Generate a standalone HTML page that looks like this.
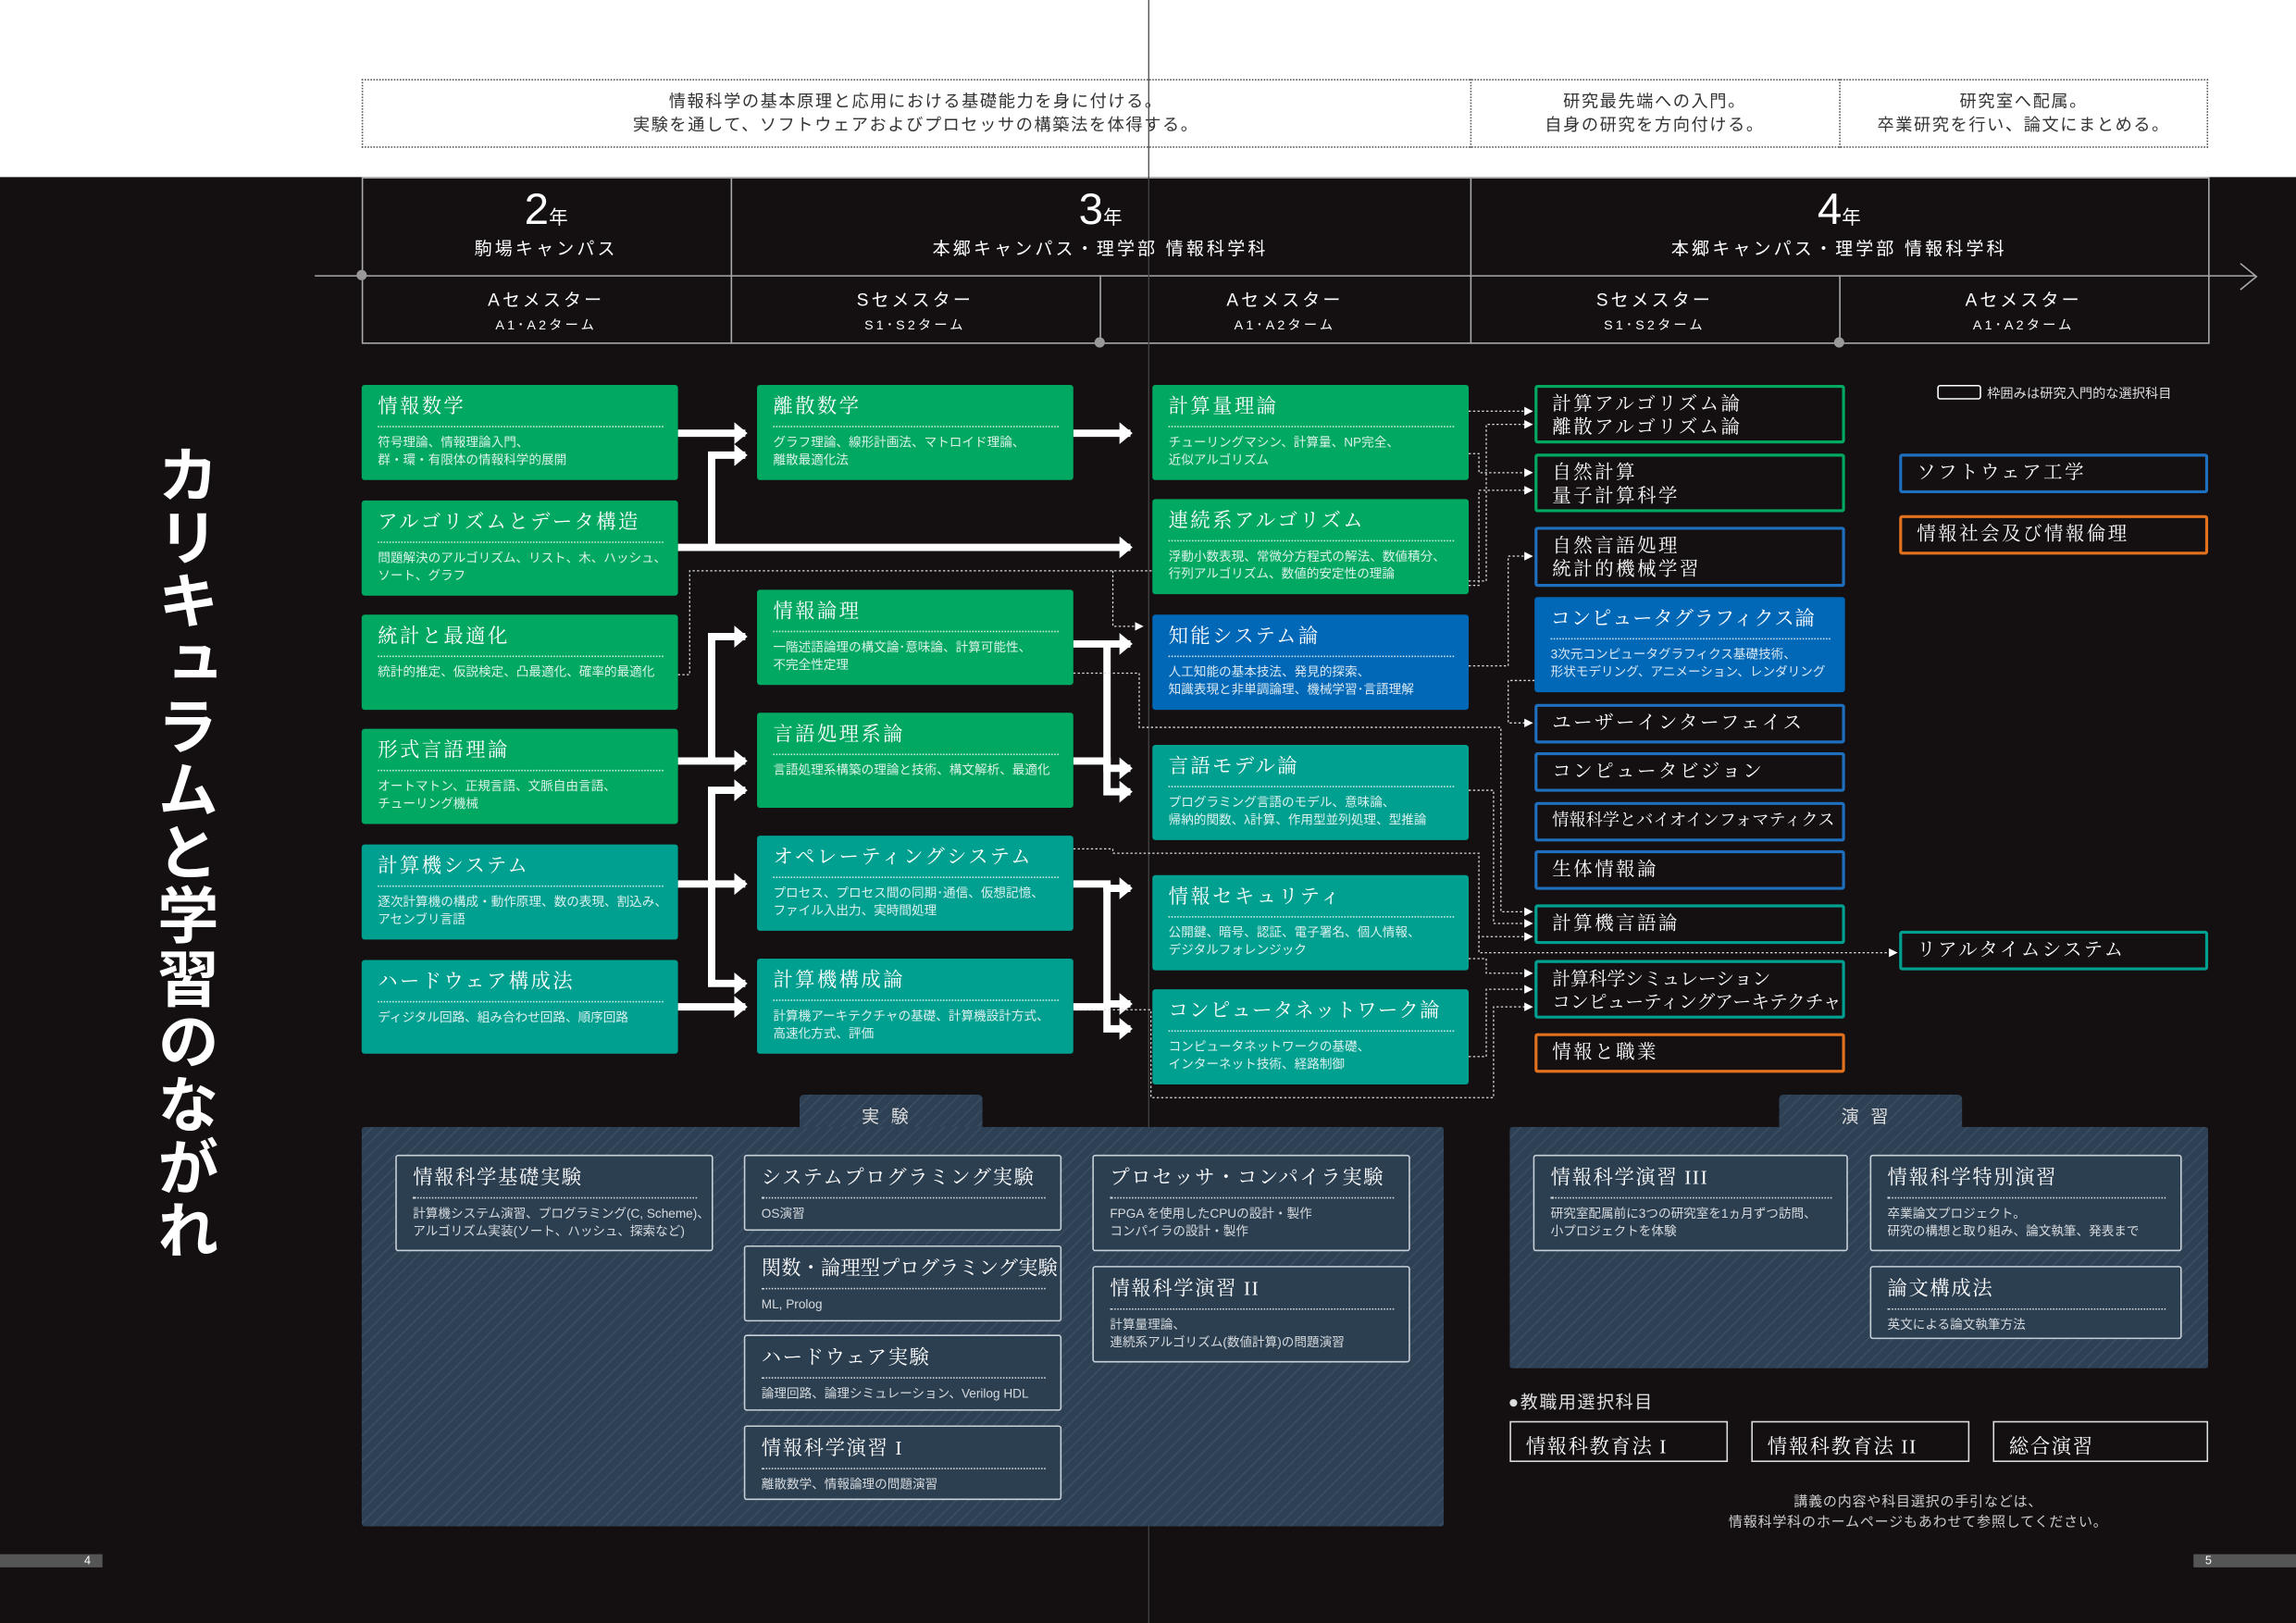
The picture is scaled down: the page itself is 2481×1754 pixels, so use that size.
<!DOCTYPE html>
<html><head><meta charset="utf-8"><style>
*{margin:0;padding:0;box-sizing:border-box}
body{width:2481px;height:1754px;overflow:hidden;background:#141011;font-family:"Liberation Sans","Noto Sans CJK JP",sans-serif;color:#fff}
#w{position:absolute;left:0;top:0;width:1568px;height:1109px;transform:scale(1.58227,1.5816);transform-origin:0 0;background:#141011}
.a{position:absolute}
.top{left:0;top:0;width:1568px;height:121px;background:#fff}
.c{text-align:center}
.b{position:absolute;padding:6px 10px 0 11px;border-radius:2px}
.b h{display:block;font-size:13.5px;letter-spacing:1.5px;line-height:18px;font-family:"Liberation Serif","Noto Serif CJK SC",serif;padding-bottom:4px;border-bottom:1px dotted rgba(255,255,255,.8);margin-bottom:4px;white-space:nowrap}
.b p{font-size:8.6px;line-height:12px;color:rgba(255,255,255,.85);white-space:nowrap}
.g{background:#00a862}.t{background:#00a090}.bl{background:#0068b6}
.o{position:absolute;border:2px solid;background:#141011;padding:3px 10px;font-family:"Liberation Serif","Noto Serif CJK SC",serif;font-size:13px;line-height:16px;letter-spacing:1.5px;border-radius:2px;white-space:nowrap;overflow:hidden}
.og{border-color:#00a862}.ob{border-color:#1f6fbf}.ot{border-color:#00a090}.oo{border-color:#e2711e}
.hat{background:#2e4053 repeating-linear-gradient(135deg,#2e4053 0 5px,#3a4d60 5px 6px)}
.e{position:absolute;background:#2c3f51;border:1px solid #c8d0d8;padding:6px 10px 0 11px;border-radius:2px}
.e h{display:block;font-size:13.5px;letter-spacing:1px;line-height:18px;font-family:"Liberation Serif","Noto Serif CJK SC",serif;padding-bottom:4px;border-bottom:1px dotted rgba(255,255,255,.8);margin-bottom:4px;white-space:nowrap}
.e p{font-size:8.6px;line-height:12px;color:rgba(255,255,255,.8);white-space:nowrap}
.k{position:absolute;border:1px solid #ddd;font-family:"Liberation Serif","Noto Serif CJK SC",serif;font-size:13.5px;padding:5px 10px;letter-spacing:1px}
</style></head><body><div id="w">
<div class="a top"></div>
<div class="a" style="left:247px;top:54px;width:1261px;height:47px;border:1px dotted #555"></div>
<div class="a" style="left:1004px;top:54px;width:1px;height:47px;border-left:1px dotted #555"></div>
<div class="a" style="left:1256px;top:54px;width:1px;height:47px;border-left:1px dotted #555"></div>
<div class="a c" style="left:247px;top:62px;width:757px;font-size:11.5px;line-height:16px;color:#333;letter-spacing:1px">情報科学の基本原理と応用における基礎能力を身に付ける。<br>実験を通して、ソフトウェアおよびプロセッサの構築法を体得する。</div>
<div class="a c" style="left:1004px;top:62px;width:252px;font-size:11.5px;line-height:16px;color:#333;letter-spacing:1px">研究最先端への入門。<br>自身の研究を方向付ける。</div>
<div class="a c" style="left:1256px;top:62px;width:252px;font-size:11.5px;line-height:16px;color:#333;letter-spacing:1px">研究室へ配属。<br>卒業研究を行い、論文にまとめる。</div>
<svg class="a" style="left:0;top:0" width="1568" height="1109">
<g stroke="#aaa" stroke-width="1" fill="none">
<rect x="247.5" y="121.5" width="1261" height="113"/>
<line x1="215" y1="188.5" x2="1540" y2="188.5"/>
<polyline points="1530,180 1541,189 1530,198"/>
<line x1="499.5" y1="121" x2="499.5" y2="235"/>
<line x1="1004.5" y1="121" x2="1004.5" y2="235"/>
<line x1="751.5" y1="188" x2="751.5" y2="235"/>
<line x1="1256.5" y1="188" x2="1256.5" y2="235"/>
</g>
<g fill="#999"><circle cx="247" cy="188" r="3.5"/><circle cx="751" cy="234" r="3.5"/><circle cx="1256" cy="234" r="3.5"/></g>
<line x1="784.5" y1="0" x2="784.5" y2="1109" stroke="#444" stroke-width="0.8"/>
</svg>
<div class="a c" style="left:247px;top:128px;width:252px;font-size:30px;line-height:32px">2<span style="font-size:13px">年</span></div>
<div class="a c" style="left:247px;top:161px;width:252px;font-size:12px;letter-spacing:2px">駒場キャンパス</div>
<div class="a c" style="left:499px;top:128px;width:505px;font-size:30px;line-height:32px">3<span style="font-size:13px">年</span></div>
<div class="a c" style="left:499px;top:161px;width:505px;font-size:12px;letter-spacing:2px">本郷キャンパス・理学部 情報科学科</div>
<div class="a c" style="left:1004px;top:128px;width:504px;font-size:30px;line-height:32px">4<span style="font-size:13px">年</span></div>
<div class="a c" style="left:1004px;top:161px;width:504px;font-size:12px;letter-spacing:2px">本郷キャンパス・理学部 情報科学科</div>
<div class="a c" style="left:247px;top:197px;width:252px;font-size:12px;letter-spacing:2px;line-height:16px">Aセメスター<br><span style="font-size:9px">A1･A2ターム</span></div>
<div class="a c" style="left:499px;top:197px;width:252px;font-size:12px;letter-spacing:2px;line-height:16px">Sセメスター<br><span style="font-size:9px">S1･S2ターム</span></div>
<div class="a c" style="left:751px;top:197px;width:253px;font-size:12px;letter-spacing:2px;line-height:16px">Aセメスター<br><span style="font-size:9px">A1･A2ターム</span></div>
<div class="a c" style="left:1004px;top:197px;width:252px;font-size:12px;letter-spacing:2px;line-height:16px">Sセメスター<br><span style="font-size:9px">S1･S2ターム</span></div>
<div class="a c" style="left:1256px;top:197px;width:252px;font-size:12px;letter-spacing:2px;line-height:16px">Aセメスター<br><span style="font-size:9px">A1･A2ターム</span></div>
<div class="a" style="left:100px;top:303px;writing-mode:vertical-rl;font-size:42px;font-weight:bold;line-height:50px;letter-spacing:1px">カリキュラムと学習のながれ</div>
<svg class="a" style="left:0;top:0" width="1568" height="1109">
<defs>
<marker id="ah" markerWidth="3" markerHeight="3" refX="1.5" refY="1.5" orient="auto" markerUnits="strokeWidth"><path d="M0,0 L1.8,1.5 L0,3 z" fill="#fff"/></marker>
<marker id="sm" markerWidth="6" markerHeight="6" refX="5" refY="3" orient="auto" markerUnits="userSpaceOnUse"><path d="M0,0 L6,3 L0,6 z" fill="#fff"/></marker>
</defs>
<g stroke="#fff" stroke-width="5" fill="none" stroke-linejoin="miter">
<path d="M463,296 H509" marker-end="url(#ah)"/>
<path d="M463,374 H772" marker-end="url(#ah)"/>
<path d="M486,374 V311 H509" marker-end="url(#ah)"/>
<path d="M733,296 H772" marker-end="url(#ah)"/>
<path d="M463,520 H509" marker-end="url(#ah)"/>
<path d="M486,520 V435 H509" marker-end="url(#ah)"/>
<path d="M463,604 H509" marker-end="url(#ah)"/>
<path d="M486,604 V540 H509" marker-end="url(#ah)"/>
<path d="M486,604 V672 H509" marker-end="url(#ah)"/>
<path d="M463,688 H509" marker-end="url(#ah)"/>
<path d="M733,440 H772" marker-end="url(#ah)"/>
<path d="M756,440 V525 H772" marker-end="url(#ah)"/>
<path d="M733,520 H756 V541 H772" marker-end="url(#ah)"/>
<path d="M733,604 H756 V607 H772" marker-end="url(#ah)"/>
<path d="M756,604 V686 H772" marker-end="url(#ah)"/>
<path d="M733,688 H756 V703 H772" marker-end="url(#ah)"/>
</g>
<g stroke="#ddd" stroke-width="0.8" fill="none" stroke-dasharray="1.5,1.5">
<path d="M463,461 H471 V390 H1003" />
<path d="M760,390 V428 H780" marker-end="url(#sm)"/>
<path d="M1003,281 H1046" marker-end="url(#sm)"/>
<path d="M1003,310 H1010 V323 H1046" marker-end="url(#sm)"/>
<path d="M1003,400 H1010 V335 H1046" marker-end="url(#sm)"/>
<path d="M1003,397 H1015 V290 H1046" marker-end="url(#sm)"/>
<path d="M1003,455 H1030 V380 H1046" marker-end="url(#sm)"/>
<path d="M1048,465 H1030 V494 H1046" marker-end="url(#sm)"/>
<path d="M733,460 H778 V497 H1025 V623 H1046" marker-end="url(#sm)"/>
<path d="M1003,540 H1020 V631 H1046" marker-end="url(#sm)"/>
<path d="M733,580 H760 V583 H1010 V640 H1046" marker-end="url(#sm)"/>
<path d="M1010,640 V651 H1295" marker-end="url(#sm)"/>
<path d="M1003,655 H1015 V665 H1046" marker-end="url(#sm)"/>
<path d="M1003,722 H1015 V676 H1046" marker-end="url(#sm)"/>
<path d="M733,690 H786 V750 H1020 V688 H1046" marker-end="url(#sm)"/>
</g>
</svg>
<div class="b g" style="left:247px;top:263px;width:216px;height:65px"><h>情報数学</h><p>符号理論、情報理論入門、<br>群・環・有限体の情報科学的展開</p></div>
<div class="b g" style="left:247px;top:342px;width:216px;height:65px"><h>アルゴリズムとデータ構造</h><p>問題解決のアルゴリズム、リスト、木、ハッシュ、<br>ソート、グラフ</p></div>
<div class="b g" style="left:247px;top:420px;width:216px;height:65px"><h>統計と最適化</h><p>統計的推定、仮説検定、凸最適化、確率的最適化</p></div>
<div class="b g" style="left:247px;top:498px;width:216px;height:65px"><h>形式言語理論</h><p>オートマトン、正規言語、文脈自由言語、<br>チューリング機械</p></div>
<div class="b t" style="left:247px;top:577px;width:216px;height:65px"><h>計算機システム</h><p>逐次計算機の構成・動作原理、数の表現、割込み、<br>アセンブリ言語</p></div>
<div class="b t" style="left:247px;top:656px;width:216px;height:64px"><h>ハードウェア構成法</h><p>ディジタル回路、組み合わせ回路、順序回路</p></div>
<div class="b g" style="left:517px;top:263px;width:216px;height:65px"><h>離散数学</h><p>グラフ理論、線形計画法、マトロイド理論、<br>離散最適化法</p></div>
<div class="b g" style="left:517px;top:403px;width:216px;height:65px"><h>情報論理</h><p>一階述語論理の構文論･意味論、計算可能性、<br>不完全性定理</p></div>
<div class="b g" style="left:517px;top:487px;width:216px;height:65px"><h>言語処理系論</h><p>言語処理系構築の理論と技術、構文解析、最適化</p></div>
<div class="b t" style="left:517px;top:571px;width:216px;height:65px"><h>オペレーティングシステム</h><p>プロセス、プロセス間の同期･通信、仮想記憶、<br>ファイル入出力、実時間処理</p></div>
<div class="b t" style="left:517px;top:655px;width:216px;height:65px"><h>計算機構成論</h><p>計算機アーキテクチャの基礎、計算機設計方式、<br>高速化方式、評価</p></div>
<div class="b g" style="left:787px;top:263px;width:216px;height:65px"><h>計算量理論</h><p>チューリングマシン、計算量、NP完全、<br>近似アルゴリズム</p></div>
<div class="b g" style="left:787px;top:341px;width:216px;height:65px"><h>連続系アルゴリズム</h><p>浮動小数表現、常微分方程式の解法、数値積分、<br>行列アルゴリズム、数値的安定性の理論</p></div>
<div class="b bl" style="left:787px;top:420px;width:216px;height:65px"><h>知能システム論</h><p>人工知能の基本技法、発見的探索、<br>知識表現と非単調論理、機械学習･言語理解</p></div>
<div class="b t" style="left:787px;top:509px;width:216px;height:65px"><h>言語モデル論</h><p>プログラミング言語のモデル、意味論、<br>帰納的関数、λ計算、作用型並列処理、型推論</p></div>
<div class="b t" style="left:787px;top:598px;width:216px;height:65px"><h>情報セキュリティ</h><p>公開鍵、暗号、認証、電子署名、個人情報、<br>デジタルフォレンジック</p></div>
<div class="b t" style="left:787px;top:676px;width:216px;height:65px"><h style="letter-spacing:0.8px">コンピュータネットワーク論</h><p>コンピュータネットワークの基礎、<br>インターネット技術、経路制御</p></div>
<div class="o og" style="left:1048px;top:263px;width:212px;height:40px">計算アルゴリズム論<br>離散アルゴリズム論</div>
<div class="o og" style="left:1048px;top:310px;width:212px;height:40px">自然計算<br>量子計算科学</div>
<div class="o ob" style="left:1048px;top:360px;width:212px;height:41px">自然言語処理<br>統計的機械学習</div>
<div class="b bl" style="left:1048px;top:408px;width:212px;height:65px"><h style="letter-spacing:0.5px">コンピュータグラフィクス論</h><p>3次元コンピュータグラフィクス基礎技術、<br>形状モデリング、アニメーション、レンダリング</p></div>
<div class="o ob" style="left:1048px;top:481px;width:212px;height:27px">ユーザーインターフェイス</div>
<div class="o ob" style="left:1048px;top:514px;width:212px;height:27px">コンピュータビジョン</div>
<div class="o ob" style="left:1048px;top:548px;width:212px;height:27px;letter-spacing:0;font-size:11.5px">情報科学とバイオインフォマティクス</div>
<div class="o ob" style="left:1048px;top:581px;width:212px;height:27px">生体情報論</div>
<div class="o ot" style="left:1048px;top:618px;width:212px;height:27px">計算機言語論</div>
<div class="o ot" style="left:1048px;top:656px;width:212px;height:40px;letter-spacing:0;font-size:12.5px">計算科学シミュレーション<br>コンピューティングアーキテクチャ</div>
<div class="o oo" style="left:1048px;top:706px;width:212px;height:27px">情報と職業</div>
<div class="a" style="left:1323px;top:263px;width:30px;height:10px;border:1.5px solid #fff;border-radius:2px"></div>
<div class="a" style="left:1357px;top:262px;font-size:9px;color:#ddd">枠囲みは研究入門的な選択科目</div>
<div class="o ob" style="left:1297px;top:310px;width:211px;height:27px">ソフトウェア工学</div>
<div class="o oo" style="left:1297px;top:352px;width:211px;height:27px">情報社会及び情報倫理</div>
<div class="o ot" style="left:1297px;top:636px;width:211px;height:27px">リアルタイムシステム</div>
<div class="a hat" style="left:546px;top:748px;width:125px;height:24px;border-radius:3px 3px 0 0"></div>
<div class="a c" style="left:546px;top:754px;width:125px;font-size:12px;letter-spacing:8px;color:#ddd">実験</div>
<div class="a hat" style="left:247px;top:770px;width:739px;height:273px;border-radius:2px"></div>
<div class="a hat" style="left:1215px;top:748px;width:125px;height:24px;border-radius:3px 3px 0 0"></div>
<div class="a c" style="left:1215px;top:754px;width:125px;font-size:12px;letter-spacing:8px;color:#ddd">演習</div>
<div class="a hat" style="left:1031px;top:770px;width:477px;height:165px;border-radius:2px"></div>
<div class="e" style="left:270px;top:789px;width:217px;height:66px"><h>情報科学基礎実験</h><p>計算機システム演習、プログラミング(C, Scheme)、<br>アルゴリズム実装(ソート、ハッシュ、探索など)</p></div>
<div class="e" style="left:508px;top:789px;width:217px;height:52px"><h>システムプログラミング実験</h><p>OS演習</p></div>
<div class="e" style="left:508px;top:851px;width:217px;height:52px"><h style="letter-spacing:0">関数・論理型プログラミング実験</h><p>ML, Prolog</p></div>
<div class="e" style="left:508px;top:912px;width:217px;height:52px"><h>ハードウェア実験</h><p>論理回路、論理シミュレーション、Verilog HDL</p></div>
<div class="e" style="left:508px;top:974px;width:217px;height:51px"><h>情報科学演習 I</h><p>離散数学、情報論理の問題演習</p></div>
<div class="e" style="left:746px;top:789px;width:217px;height:66px"><h>プロセッサ・コンパイラ実験</h><p>FPGA を使用したCPUの設計・製作<br>コンパイラの設計・製作</p></div>
<div class="e" style="left:746px;top:865px;width:217px;height:66px"><h>情報科学演習 II</h><p>計算量理論、<br>連続系アルゴリズム(数値計算)の問題演習</p></div>
<div class="e" style="left:1047px;top:789px;width:215px;height:66px"><h>情報科学演習 III</h><p>研究室配属前に3つの研究室を1ヵ月ずつ訪問、<br>小プロジェクトを体験</p></div>
<div class="e" style="left:1277px;top:789px;width:213px;height:66px"><h>情報科学特別演習</h><p>卒業論文プロジェクト。<br>研究の構想と取り組み、論文執筆、発表まで</p></div>
<div class="e" style="left:1277px;top:865px;width:213px;height:50px"><h>論文構成法</h><p>英文による論文執筆方法</p></div>
<div class="a" style="left:1030px;top:949px;font-size:12px;letter-spacing:1px;color:#ddd">●教職用選択科目</div>
<div class="k" style="left:1031px;top:971px;width:149px;height:28px">情報科教育法 I</div>
<div class="k" style="left:1196px;top:971px;width:149px;height:28px">情報科教育法 II</div>
<div class="k" style="left:1361px;top:971px;width:147px;height:28px">総合演習</div>
<div class="a c" style="left:1110px;top:1020px;width:400px;font-size:9.5px;line-height:14px;color:#ccc;letter-spacing:0.5px">講義の内容や科目選択の手引などは、<br>情報科学科のホームページもあわせて参照してください。</div>
<div class="a" style="left:0;top:1062px;width:70px;height:9px;background:#555;font-size:8px;line-height:9px;text-align:right;padding-right:8px">4</div>
<div class="a" style="left:1498px;top:1062px;width:70px;height:9px;background:#555;font-size:8px;line-height:9px;padding-left:8px">5</div>
</div></body></html>
